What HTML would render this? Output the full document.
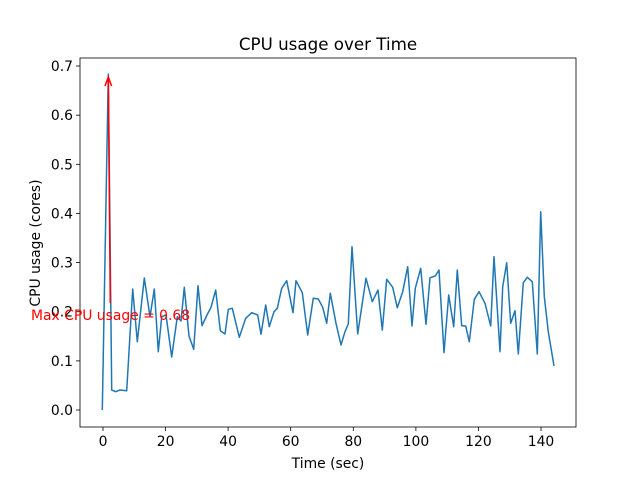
<!DOCTYPE html><html><head><style>body{margin:0;background:#fff}svg{display:block;font-family:"DejaVu Sans","Liberation Sans",sans-serif}</style></head><body>
<svg width="640" height="480" viewBox="0 0 640 480">
<rect x="80" y="58" width="496" height="369" fill="none" stroke="#000" stroke-width="0.8"/>
<g stroke="#000" stroke-width="0.8">
<line x1="103" y1="427" x2="103" y2="431"/><line x1="165.6" y1="427" x2="165.6" y2="431"/><line x1="228.1" y1="427" x2="228.1" y2="431"/><line x1="290.7" y1="427" x2="290.7" y2="431"/><line x1="353.3" y1="427" x2="353.3" y2="431"/><line x1="415.9" y1="427" x2="415.9" y2="431"/><line x1="478.4" y1="427" x2="478.4" y2="431"/><line x1="541" y1="427" x2="541" y2="431"/>
<line x1="76" y1="410" x2="80" y2="410"/><line x1="76" y1="360.9" x2="80" y2="360.9"/><line x1="76" y1="311.7" x2="80" y2="311.7"/><line x1="76" y1="262.6" x2="80" y2="262.6"/><line x1="76" y1="213.4" x2="80" y2="213.4"/><line x1="76" y1="164.3" x2="80" y2="164.3"/><line x1="76" y1="115.2" x2="80" y2="115.2"/><line x1="76" y1="66" x2="80" y2="66"/>
</g>
<g font-size="13.9" text-anchor="middle" fill="#000">
<text x="103" y="446">0</text><text x="165.6" y="446">20</text><text x="228.1" y="446">40</text><text x="290.7" y="446">60</text><text x="353.3" y="446">80</text><text x="415.9" y="446">100</text><text x="478.4" y="446">120</text><text x="541" y="446">140</text>
</g>
<g font-size="13.9" text-anchor="end" fill="#000">
<text x="73" y="415">0.0</text><text x="73" y="365.9">0.1</text><text x="73" y="316.7">0.2</text><text x="73" y="267.6">0.3</text><text x="73" y="218.4">0.4</text><text x="73" y="169.3">0.5</text><text x="73" y="120.2">0.6</text><text x="73" y="71">0.7</text>
</g>
<text x="328" y="468" font-size="13.9" text-anchor="middle">Time (sec)</text>
<text transform="translate(40,243) rotate(-90)" font-size="13.9" text-anchor="middle">CPU usage (cores)</text>
<text x="328" y="50" font-size="16.7" text-anchor="middle">CPU usage over Time</text>
<polyline fill="none" stroke="#1f77b4" stroke-width="1.5" stroke-linejoin="round" points="102.3,410 108.3,74 111.7,390 115.7,391.7 120,390 126.7,390.7 132.7,289 137.3,341.7 144.3,278 150,316.7 154.3,289 158.3,351.7 161.7,316.7 166,315 171.7,357 177.3,316.7 181,321 184.3,287.3 189,336 193.7,349.3 198,285.7 202,325.7 207,315 211,307.3 215.7,290 220.3,330.7 225,334 228.3,309.3 232.3,308.3 239.3,337.3 245.7,318.3 251.7,312.7 257.7,315 261,334.3 265.7,305 269.3,326.7 274,311.7 277.3,308.3 281.7,288.3 286.7,280.7 293,312.7 296,280.7 302.3,292.7 307.7,335 313.3,298.3 318.3,299 322.7,307.3 326.7,323.3 330.3,293.3 336,323.3 341,345 345,331.7 348.3,324 352,246.7 357.7,334 366,278.3 372.3,301.7 378,290 382.3,330 386.7,279.3 392.7,287.3 397.3,307.7 402.7,291.7 407.7,266.7 412,326 415.3,288.3 420.7,268.3 426,324.3 430,277.7 435.3,276 439,270 444,352.7 448.7,295 453.7,326.7 457.3,270 461.7,325.7 465.7,326 469.3,341.7 474.3,299.3 479,291.7 485,303.3 490.7,326 494,256.7 500,351.7 502.7,286.7 506.7,262.7 510.7,323.3 515,310.7 518.3,354 523.3,282.7 527.3,277.3 532.3,281.7 537.3,354 540.7,211.7 544.3,296.7 548.3,331.7 554,366"/>
<line x1="110.3" y1="303" x2="108.3" y2="78" stroke="#f00" stroke-width="1.5"/>
<polyline points="105,86 108.3,77 111.6,86" fill="none" stroke="#f00" stroke-width="1.5"/>
<text x="31" y="320" font-size="13.9" fill="#f00">Max CPU usage = 0.68</text>
</svg></body></html>
